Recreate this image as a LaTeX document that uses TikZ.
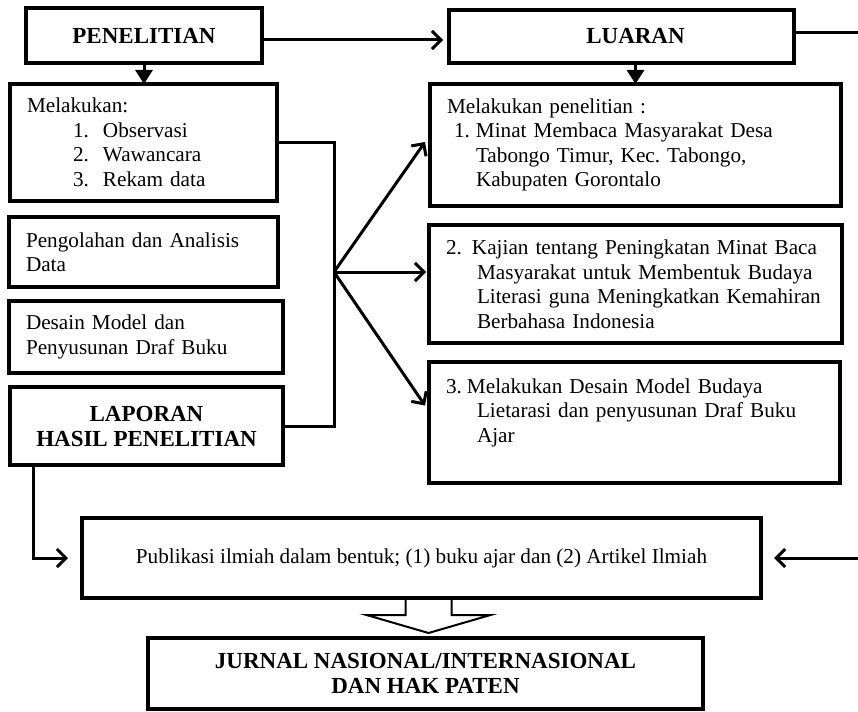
\documentclass[tikz,border=0pt]{standalone}
\usepackage{fontspec}
\setmainfont{Liberation Serif}
\usepackage{tikz}
\usetikzlibrary{arrows.meta}
\frenchspacing

\begin{document}
\begin{tikzpicture}[
    x=1pt, y=-1pt,
    box/.style={draw, line width=3.2pt, outer sep=0pt, anchor=north west, align=left,
      inner xsep=17pt, inner ysep=0pt, font=\fontsize{21.2}{24.5}\selectfont},
    titlebox/.style={draw, line width=3.2pt, outer sep=0pt, anchor=north west, align=center,
      inner sep=0pt, font=\fontsize{23}{25}\selectfont\bfseries},
    pubbox/.style={draw, line width=4pt, outer sep=0pt, anchor=north west, align=center,
      inner sep=0pt, font=\fontsize{21.2}{24.5}\selectfont},
    line/.style={line width=3pt},
    arrow/.style={line width=3pt, -{Straight Barb[length=9pt,width=18pt]}},
    drop/.style={line width=3pt, -{Triangle[length=14pt,width=17pt]}},
    hollow/.style={draw, line width=2pt, fill=white}
  ]
    \useasboundingbox (0,0) rectangle (858,711);

    % left column
    \node[titlebox, minimum width=236pt, minimum height=55pt] (penelitian) at (26,8) {PENELITIAN};
    \node[box, text width=233pt, minimum height=117pt] (melakukan) at (10,84)
      {Melakukan:\\
       \hspace*{46pt}\makebox[30pt][l]{1.}Observasi\\
       \hspace*{46pt}\makebox[30pt][l]{2.}Wawancara\\
       \hspace*{46pt}\makebox[30pt][l]{3.}Rekam data};
    \node[box, text width=235pt, minimum height=70pt] (pengolahan) at (9,217)
      {Pengolahan dan Analisis\\ Data};
    \node[box, text width=240pt, minimum height=72pt] (desain) at (9,301)
      {Desain Model dan\\ Penyusunan Draf Buku};
    \node[titlebox, minimum width=273pt, minimum height=78pt] (laporan) at (10,387)
      {LAPORAN\\ HASIL PENELITIAN};

    % right column
    \node[titlebox, minimum width=345pt, minimum height=53pt] (luaran) at (449,10) {\hspace*{28pt}LUARAN};
    \node[box, text width=377pt, minimum height=122pt] (hasil1) at (430,84)
      {Melakukan penelitian :\\
       \hspace*{7pt}\makebox[22pt][l]{1.}Minat Membaca Masyarakat Desa\\
       \hspace*{29pt}Tabongo Timur, Kec. Tabongo,\\
       \hspace*{29pt}Kabupaten Gorontalo};
    \node[box, text width=379pt, minimum height=118pt] (hasil2) at (429,225)
      {\makebox[26pt][l]{2.}Kajian tentang Peningkatan Minat Baca\\
       \hspace*{31pt}Masyarakat untuk Membentuk Budaya\\
       \hspace*{31pt}Literasi guna Meningkatkan Kemahiran\\
       \hspace*{31pt}Berbahasa Indonesia};
    \node[box, text width=377pt, minimum height=121pt] (hasil3) at (429,362)
      {\makebox[21pt][l]{3.}Melakukan Desain Model Budaya\\
       \hspace*{31pt}Lietarasi dan penyusunan Draf Buku\\
       \hspace*{31pt}Ajar\\ ~};

    % bottom
    \node[pubbox, minimum width=679pt, minimum height=80pt] (publikasi) at (82,518)
      {Publikasi ilmiah dalam bentuk; (1) buku ajar dan (2) Artikel Ilmiah};
    \node[titlebox, line width=4pt, minimum width=555pt, minimum height=71pt] (jurnal) at (148,638)
      {JURNAL NASIONAL/INTERNASIONAL\\ DAN HAK PATEN};

    \coordinate (hub) at (334,272);
    \coordinate (rightout) at (858,33);
    \coordinate (rightin) at (858,558);

    \draw[arrow] ([yshift=-4.5pt]penelitian.east) -- ([xshift=-6pt,yshift=-3.5pt]luaran.west);
    \draw[line] (luaran.east |- rightout) -- (rightout);
    \draw[drop] (penelitian.south) -- (penelitian.south |- melakukan.north);
    \draw[drop] (hasil1.north |- luaran.south) -- (hasil1.north);
    \draw[line] (melakukan.east) -| (hub) |- (laporan.east);
    \draw[arrow] (hub) -- ([xshift=-5pt,yshift=3pt]hasil1.west);
    \draw[arrow] (hub) -- ([xshift=-3pt]hub -| hasil2.west);
    \draw[arrow] (hub) -- ([xshift=-4pt,yshift=17pt]hasil3.west);
    \draw[arrow] ([xshift=23pt]laporan.south west) |- ([xshift=-14pt]publikasi.west);
    \draw[arrow] (rightin) -- ([xshift=13pt]publikasi.east);
    \draw[hollow] ([xshift=-16pt,yshift=-2pt]publikasi.south) -- ++(0,15) -- ++(-39,0)
      -- ++(62,18) -- ++(62,-18) -- ++(-39,0) -- ++(0,-15);
  \end{tikzpicture}
\end{document}
